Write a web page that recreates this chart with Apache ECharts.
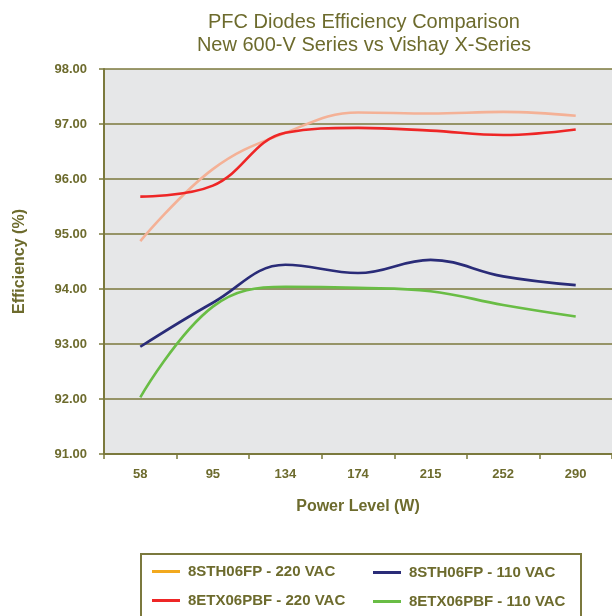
<!DOCTYPE html>
<html>
<head>
<meta charset="utf-8">
<title>PFC Diodes Efficiency Comparison</title>
<script src="https://cdn.jsdelivr.net/npm/echarts@6/dist/echarts.min.js"></script>
<style>
  html, body { margin: 0; padding: 0; background: #fff; }
  #main { width: 612px; height: 616px; }
</style>
</head>
<body>
<div id="main"></div>
<script>
// power levels (W)
const powerLevels = ['58', '95', '134', '174', '215', '252', '290'];

// efficiency (%)
const sth220 = [94.87, 96.18, 96.84, 97.21, 97.19, 97.22, 97.15];
const etx220 = [95.68, 95.88, 96.84, 96.93, 96.88, 96.80, 96.90];
const sth110 = [92.95, 93.75, 94.44, 94.29, 94.53, 94.23, 94.07];
const etx110 = [92.03, 93.68, 94.04, 94.02, 93.96, 93.71, 93.50];

const olive = '#6d6b2d';
const gridOlive = '#7b793d';
const font = 'Liberation Sans, Arial, sans-serif';

const chart = echarts.init(document.getElementById('main'));

function line(name, data, color, legendColor) {
  return {
    name: name,
    type: 'line',
    data: data,
    smooth: 0.4,
    symbol: 'none',
    color: legendColor || color,
    lineStyle: { color: color, width: 2.6 }
  };
}

// one legend per entry so the 2x2 layout stays put
function legendAt(name, left, top) {
  return {
    left: left,
    top: top,
    itemWidth: 28,
    itemHeight: 3,
    itemGap: 8,
    icon: 'rect',
    padding: 0,
    textStyle: { color: olive, fontSize: 15, fontWeight: 'bold', fontFamily: font, padding: [0, 0, 0, 3] },
    data: [name]
  };
}

chart.setOption({
  animation: false,
  textStyle: { fontFamily: font },
  title: {
    text: 'PFC Diodes Efficiency Comparison\nNew 600-V Series vs Vishay X-Series',
    left: 364,
    textAlign: 'center',
    top: 11,
    padding: 0,
    textStyle: { color: olive, fontSize: 20, fontWeight: 'normal', lineHeight: 23 }
  },
  grid: {
    left: 104,
    right: -10,
    top: 69,
    bottom: 616 - 454,
    show: true,
    backgroundColor: '#e6e7e8',
    borderWidth: 0
  },
  legend: [
    legendAt('8STH06FP - 220 VAC', 152, 564),
    legendAt('8ETX06PBF - 220 VAC', 152, 593),
    legendAt('8STH06FP - 110 VAC', 373, 565),
    legendAt('8ETX06PBF - 110 VAC', 373, 594)
  ],
  graphic: [
    {
      type: 'rect',
      shape: { x: 141, y: 554, width: 440, height: 80 },
      style: { fill: 'none', stroke: gridOlive, lineWidth: 2 }
    }
  ],
  xAxis: {
    type: 'category',
    data: powerLevels,
    boundaryGap: true,
    name: 'Power Level (W)',
    nameLocation: 'middle',
    nameGap: 45,
    nameTextStyle: { color: olive, fontSize: 16, fontWeight: 'bold' },
    axisLine: { lineStyle: { color: gridOlive, width: 2 } },
    axisTick: { show: true, length: 5, lineStyle: { color: gridOlive, width: 1.5 } },
    axisLabel: { color: olive, fontSize: 13, fontWeight: 'bold', margin: 14 }
  },
  yAxis: {
    type: 'value',
    min: 91,
    max: 98,
    interval: 1,
    name: 'Efficiency (%)',
    nameLocation: 'middle',
    nameGap: 76,
    nameTextStyle: { color: olive, fontSize: 16, fontWeight: 'bold' },
    axisLine: { show: true, lineStyle: { color: gridOlive, width: 2 } },
    axisTick: { show: true, length: 5, lineStyle: { color: gridOlive, width: 1.5 } },
    axisLabel: {
      color: olive,
      fontSize: 13,
      fontWeight: 'bold',
      margin: 17,
      formatter: v => v.toFixed(2)
    },
    splitLine: { lineStyle: { color: gridOlive, width: 1.5 } }
  },
  series: [
    line('8STH06FP - 220 VAC', sth220, '#f4b196', '#f2a91e'),
    line('8ETX06PBF - 220 VAC', etx220, '#ee2626'),
    line('8STH06FP - 110 VAC', sth110, '#2a2c78'),
    line('8ETX06PBF - 110 VAC', etx110, '#69bd45')
  ]
});
</script>
</body>
</html>
